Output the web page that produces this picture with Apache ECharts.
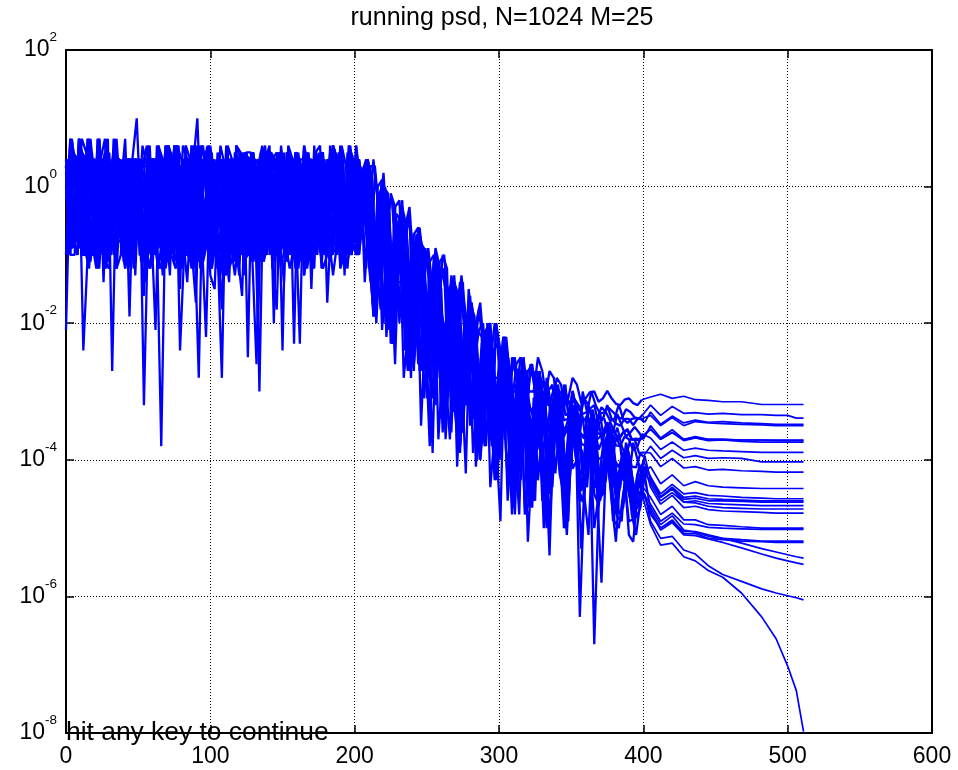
<!DOCTYPE html>
<html><head><meta charset="utf-8">
<script src="https://cdn.jsdelivr.net/npm/echarts@6/dist/echarts.min.js"></script>
<style>html,body{margin:0;padding:0;background:#fff}#c{width:958px;height:770px}</style>
</head><body><div id="c"></div>
<script>
const titleText = 'running psd, N=1024 M=25';
const promptText = 'hit any key to continue';
const xTicks = [0, 100, 200, 300, 400, 500, 600];
const yTicksDb = [-80, -60, -40, -20, 0, 20];   // 10^-8 ... 10^2 expressed in dB
// PSD estimates in dB (10*log10). Body sampled every 3rd bin, tail on tailBins.
const tailBins = [405,412,420,428,436,445,455,468,482,492,500,506,511];
const b01 = [3,-8,-2,5,-24,-10,-5,-11,4,7,-8,-6,-9,2,-7,-12,0,4,-32,-4,4,-9,-6,3,-9,3,4,-7,-14,-2,3,-10,-8,6,2,-5,-4,3,-8,-13,-7,-8,4,3,-9,-8,4,6,-10,-10,4,-10,-5,-7,0,-6,-11,4,2,-12,-2,5,3,-7,-4,-8,-8,-9,
 2,3,-5,-15,0,1,-6,-15,-3,-2,-15,-24,-9,-8,-14,-24,-11,-10,-20,-30,-17,-16,-16,-24,-31,-15,-21,-31,-26,-21,-20,-28,-28,-22,-26,-30,-30,-25,-27,-30,-30,-25,-27,-31.5,-31,-29,-30,-31.2,-31,-28,-29,-31.7,-31,-30.1,-30,-31.5,-31,-29.9,-31,-31.8,-32,-31.2,-31,-31.7,-32,-31.2];
const b02 = [-2,5,4,-9,-4,3,4,-5,-8,-12,2,7,-7,-9,0,4,3,-8,-12,-7,-10,-6,4,-11,4,3,-2,-4,-5,3,10,-7,-8,-9,4,-13,-9,6,4,-5,-10,2,-8,-9,3,6,-6,-10,-8,-10,-7,4,-2,-6,3,4,-4,-8,4,5,-17,-4,2,-12,-10,3,0,-6,
 0,1,-7,-15,-2,0,-1,-21,-11,-7,-10,-14,-24,-6,-9,-26,-16,-15,-14,-31,-23,-15,-18,-23,-23,-17,-19,-32,-31,-23,-24,-32,-28,-22,-26,-33,-30,-27,-29,-33,-32,-28,-29,-32,-32,-28,-29,-33.5,-33,-31,-32,-33.3,-33,-30,-32,-33.3,-33,-32.4,-33,-33.7,-34,-32.6,-33,-33.8,-34,-33.3];
const b03 = [4,-6,-4,4,3,-10,-2,5,-8,-10,2,-12,0,7,-10,-7,4,-7,-8,-5,-21,4,4,-9,-5,3,3,-9,-2,-11,-8,3,6,-6,-4,4,-8,-14,2,-7,-10,-4,4,4,-10,-8,4,-10,-6,6,0,-10,2,3,-9,-6,-8,5,3,-2,-8,-9,4,4,-5,-7,-7,-10,
 -3,4,1,-17,-9,-1,-4,-17,-6,-2,-24,-13,-8,-27,-14,-9,-15,-27,-12,-15,-21,-33,-18,-14,-32,-26,-20,-17,-25,-33,-24,-23,-34,-31,-27,-25,-31,-33,-27,-26,-31,-32,-31,-27,-28,-34.1,-33,-31,-32,-33.9,-34,-31,-32,-34.5,-34,-32.3,-33,-34.3,-34,-31.9,-34,-34.6,-34,-33.9,-34,-34.5];
const b04 = [-10,7,2,-8,-8,4,5,-11,-6,-7,0,-5,3,-10,-2,3,-13,3,4,-7,-4,4,2,-12,-8,-10,4,-6,-7,6,-8,-9,-10,6,3,-4,4,-12,-5,4,-9,-8,-7,-10,-26,4,4,-6,-8,-10,3,2,-4,3,0,-13,5,-2,-10,5,-9,-5,4,3,-9,-8,-4,4,
 1,2,-5,-19,-4,1,-18,-11,-7,-6,-10,-24,-15,-7,-9,-25,-33,-14,-16,-29,-21,-13,-17,-33,-26,-20,-24,-33,-23,-21,-30,-33,-26,-27,-31,-32,-26,-25,-31,-32,-34,-28,-30,-34.7,-33,-31,-31,-34.2,-34,-30,-33,-34.2,-34,-32.5,-32,-34.8,-34,-32,-34,-34.7,-35,-34,-34,-34.9,-34,-34];
const b05 = [2,-9,-5,5,0,-4,3,-12,-2,7,-10,-7,4,-9,-8,4,10,-5,-4,3,-7,-11,-10,3,5,-4,-2,4,-8,-9,-6,6,3,-13,-15,2,4,-6,-8,6,4,-10,-10,4,0,-5,-7,-8,-7,4,4,-10,-9,-12,3,3,-5,-8,-8,-7,4,3,-2,-9,-10,5,4,-4,
 -3,-12,3,3,-4,-20,-3,-2,-14,-14,-6,-3,-12,-26,-11,-10,-19,-19,-11,-10,-18,-30,-36,-15,-19,-34,-25,-18,-23,-27,-34,-20,-24,-35,-29,-26,-27,-33,-34,-26,-30,-35.8,-33,-30,-29,-35.2,-34,-30,-32,-34.8,-37,-30,-33,-36.7,-35,-33.8,-34,-36.5,-36,-33.3,-35,-36.6,-36,-35.2,-36,-37];
const b06 = [-8,5,3,-8,-6,4,4,-12,-2,7,-27,3,0,-6,-9,4,2,-10,-10,3,4,-7,-5,4,-8,-4,3,-9,-11,6,-7,-6,-8,-12,-4,6,3,-10,-9,-8,4,5,-10,-5,-8,4,2,-11,-18,3,0,-7,3,-2,-9,4,4,-9,-6,4,-7,-13,-8,5,-10,-5,-8,-8,
 -1,3,-8,-17,-1,-2,-7,-23,-7,-5,-22,-15,-12,-7,-11,-28,-18,-14,-32,-24,-17,-15,-21,-36,-19,-21,-28,-35,-25,-20,-29,-36,-26,-25,-34,-32,-28,-26,-32,-36,-32,-30,-34,-35.7,-31,-29,-37,-35.7,-34,-33.3,-36,-36.9,-33,-32.7,-36,-36.4,-36,-34.4,-36,-37.1,-36,-35.7,-37,-37.1,-37,-36.4];
const b07 = [4,-10,-10,7,4,-5,-7,3,2,-12,-8,5,3,-7,-4,3,0,-4,-16,4,-7,-8,-38,-2,4,-11,-9,6,4,-6,-5,3,-8,-9,2,4,-10,-13,-9,4,3,-5,4,-10,-2,4,6,-7,-4,5,-8,-10,-7,-12,-10,3,4,-6,-10,4,3,-9,-5,5,0,-4,-9,-7,
 -2,3,0,-17,-7,1,-5,-11,-26,-6,-8,-27,-12,-8,-9,-19,-19,-10,-17,-27,-20,-17,-16,-35,-28,-17,-22,-36,-28,-21,-24,-35,-29,-22,-25,-36.2,-34,-27,-30,-37,-33,-27,-38,-37,-31,-31.6,-35,-36.2,-34,-29.9,-33,-37.6,-38,-33.9,-35,-38.5,-37,-34.5,-36,-37.9,-38,-36.6,-37,-38.6,-38,-36.2];
const b08 = [-2,5,4,-9,-4,7,3,-6,0,-11,-6,4,2,-7,-9,3,4,-10,-8,-12,-8,6,4,-5,-10,6,-7,-10,-8,3,4,-7,-22,3,-8,-4,-2,-9,3,4,-5,-13,4,5,-8,-6,-4,3,2,-11,5,-9,-10,4,0,-8,-7,4,-7,-5,-8,-10,4,5,-12,-10,3,-8,
 1,-7,-14,2,-4,-19,-2,-2,-10,-19,-8,-4,-26,-19,-10,-10,-16,-32,-13,-12,-29,-22,-19,-13,-19,-35,-26,-21,-20,-30,-38,-20,-26,-37,-31,-25,-28,-33,-33,-26,-28,-38.5,-33,-30,-36,-37,-33,-29,-36,-37,-32,-33.8,-39,-38.8,-35,-33,-38,-38.2,-37,-35.3,-38,-39.6,-37,-37,-39,-39.5];
const b09 = [0,-7,-10,5,4,-10,-8,7,-14,3,2,-6,-2,4,4,-12,-5,3,3,-8,-8,4,-9,-11,-9,6,4,-4,-8,-9,4,6,-4,-10,-7,-13,-6,3,0,-7,5,-2,-9,4,-30,4,4,-10,-10,4,2,-6,-8,-12,-5,5,3,-8,-8,4,-8,6,-7,-9,-2,5,-5,-10,
 -4,4,1,-11,-18,-1,-4,-23,-10,-4,-7,-15,-22,-6,-12,-20,-39,-13,-15,-33,-20,-14,-16,-25,-25,-17,-24,-40,-30,-23,-25,-39,-30,-24,-27,-34,-41,-25,-31,-40,-35,-31,-31,-41,-35,-30,-40,-40.4,-33,-34,-38,-39.7,-37,-34.2,-40,-39.7,-37,-35,-40,-41.1,-39,-38.4,-41,-41.1,-39,-38.9];
const b10 = [3,-9,-8,5,-5,4,2,-11,0,-6,-10,7,3,-4,-2,-12,4,4,-10,3,-7,-8,-4,6,-8,-10,3,-5,-9,4,-7,-10,4,-9,4,-12,-10,6,0,-7,-13,4,2,-6,-8,-11,3,3,-5,3,4,-9,-2,5,4,-13,-8,-4,-6,5,-8,-8,-7,-5,-10,5,-8,-10,
 3,-14,-4,4,-2,-21,-10,-1,-3,-20,-10,-4,-8,-20,-27,-9,-13,-26,-19,-10,-12,-36,-20,-14,-21,-25,-34,-21,-22,-38,-26,-20,-24,-32,-43,-25,-28,-43,-32,-28,-27,-43,-36,-28,-32,-42,-35,-29,-33,-41.3,-40,-34.5,-34,-40.8,-39,-34.5,-38,-41.3,-41,-36.7,-38,-43.1,-43,-37.5,-40,-42.2];
const b11 = [-4,7,2,-7,0,-12,-2,5,3,-5,-8,4,4,-10,-8,3,4,-10,-10,4,-6,-9,-7,-4,-8,6,-24,-9,3,-8,-2,6,4,-12,-4,4,2,-6,3,-10,-8,5,-9,4,0,-11,3,-6,-9,5,4,-9,-4,4,-11,3,-7,-7,-8,-12,-10,5,4,-5,-8,4,-6,-8,
 0,1,-7,-16,-1,0,-9,-22,-9,-7,-24,-16,-9,-8,-15,-31,-14,-13,-28,-21,-18,-14,-36,-28,-20,-21,-26,-37,-26,-21,-30,-43,-24,-26,-31,-35,-43,-26,-30,-45,-35,-32,-33,-40,-44,-32,-33,-41.5,-37,-33,-36,-40.1,-41,-36,-39,-43.9,-42,-35.1,-37,-43.1,-42,-40.1,-41,-44.5,-44,-40.1];
const b12 = [4,-9,-6,5,3,-11,-2,7,0,-6,4,-12,-10,4,-19,4,2,-8,-8,3,4,-4,-5,6,3,-10,-8,-6,-9,6,-7,-9,-7,4,-8,3,4,-12,-10,4,4,-7,0,-10,-4,5,5,-9,-2,5,-10,4,4,-11,-8,4,3,-7,-4,2,-9,6,4,-10,-8,-5,-7,4,
 -2,3,0,-18,-8,-2,-5,-18,-10,-3,-6,-24,-17,-8,-13,-24,-13,-10,-19,-28,-37,-16,-16,-30,-23,-17,-22,-37,-29,-23,-24,-38,-30,-22,-29,-45,-27,-27,-42,-35,-31,-28,-36,-45,-32,-32,-42,-42.7,-36,-32,-38,-40.2,-35,-36,-43,-42.7,-38,-36,-41,-43.2,-39,-38.6,-43,-44.9,-42,-39.4];
const b13 = [-21,4,3,-8,-8,7,-4,-6,4,-11,5,-10,-7,4,0,-9,-2,3,2,-6,-12,4,4,-10,-10,6,3,-7,-8,-12,-5,6,-7,-4,-8,3,-8,-10,4,-9,-9,4,4,-11,0,-5,-10,5,-20,5,2,-8,4,-6,-8,4,-4,-10,4,-5,3,-9,-6,5,-8,-6,-10,6,
 1,3,-5,-18,-4,-1,-22,-12,-9,-6,-13,-27,-10,-7,-19,-26,-17,-14,-16,-31,-23,-15,-27,-37,-19,-20,-26,-34,-25,-21,-44,-36,-27,-28,-34,-42,-32,-27,-35,-46,-31,-31,-46,-39,-35,-30,-38,-43.3,-36,-36,-41,-42.1,-39,-35.6,-44,-43.8,-38,-36.6,-42,-43.3,-41,-40,-44,-45.8,-42,-40.7];
const b14 = [2,-7,-8,5,0,-11,-9,7,3,-6,-10,4,4,-10,4,-5,-2,3,-5,3,-8,-12,-7,-6,-8,4,-15,4,3,-9,4,-7,-4,6,0,-4,2,-11,-9,6,5,-10,-6,3,4,-8,-10,4,-7,-10,-8,4,-8,5,3,-6,-8,-12,4,5,-5,3,0,-9,-2,4,4,-6,
 -4,3,0,-19,-4,2,-9,-17,-4,-5,-10,-18,-27,-6,-10,-17,-17,-9,-12,-35,-19,-16,-18,-25,-32,-17,-21,-38,-26,-21,-23,-31,-40,-22,-29,-39,-31,-27,-28,-39,-46,-27,-32,-45,-37,-30,-31,-43,-39,-33,-35,-40.9,-39,-33,-36,-43.5,-43,-37.5,-40,-43,-43,-37.5,-40,-46,-43,-40.9];
const b15 = [-8,5,4,-10,-10,7,0,-5,-6,4,2,-8,-8,-12,4,4,-4,3,6,-6,-2,4,-10,3,4,-9,-8,-10,-10,6,3,-11,-8,5,-5,4,-7,-7,0,-10,-16,4,3,-5,-9,5,4,-12,-8,-4,-4,4,-23,5,-8,-8,-2,4,2,-6,-9,6,4,-11,-10,2,0,-4,
 -1,3,-8,-16,-2,-1,-8,-22,-9,-3,-13,-22,-8,-9,-21,-21,-15,-11,-18,-28,-17,-13,-24,-36,-21,-20,-41,-29,-22,-21,-29,-40,-28,-25,-33,-33,-29,-25,-38,-47,-32,-31,-35,-45,-32,-30,-39,-47,-36,-34,-46,-45.3,-36,-35,-41,-42.5,-39,-36,-44,-44.8,-39,-40.2,-44,-45.3,-43,-41];
const b16 = [3,-9,-4,7,4,-6,-8,-12,2,5,-7,4,0,-8,4,-11,-2,3,-10,4,4,-7,3,-4,-13,6,-8,-10,-9,6,4,-6,-5,3,4,-12,-8,4,-7,-5,-10,-9,3,-10,-8,5,0,-7,2,-12,-4,5,4,-4,-23,5,3,-9,-8,2,-8,-11,-6,4,-7,-6,-4,4,
 -1,1,-9,-19,-1,-1,-8,-18,-9,-7,-18,-27,-11,-9,-17,-26,-14,-12,-37,-26,-20,-18,-24,-39,-20,-19,-27,-36,-26,-21,-33,-41,-28,-27,-32,-46,-29,-29,-48,-39,-34,-29,-37,-45,-34,-35,-41,-45.2,-37,-34,-40,-44.5,-37,-38,-50,-45.2,-41,-39,-45,-47.5,-41,-41.4,-45,-47,-44,-43.8];
const b17 = [-10,5,4,-9,3,-6,-5,7,0,-11,-2,4,2,-7,-11,3,4,-4,-8,-12,-8,6,-4,6,-7,-9,-9,4,4,-6,-10,3,4,-11,-7,5,0,-4,3,-8,-8,5,-5,4,2,-10,-2,5,4,-7,-14,2,3,-5,-8,-12,-10,6,-7,-8,-8,4,4,-6,-5,4,-9,-10,
 2,4,-5,-16,-3,-1,-13,-23,-6,-4,-11,-20,-7,-6,-17,-27,-15,-13,-19,-28,-15,-14,-28,-35,-21,-16,-26,-36,-23,-23,-27,-37,-49,-23,-28,-40,-32,-27,-27,-45,-37,-27,-33,-45,-37,-32,-33,-50,-42,-32,-36,-42,-40,-37,-36,-46,-43,-37,-41,-48.4,-49,-40,-41,-47.2,-46,-42];
const b18 = [0,-8,-2,7,5,-10,-10,4,4,-6,-9,4,2,-12,-8,3,-4,6,3,-9,-8,-4,-6,6,4,-11,-9,3,4,-7,-28,4,0,-10,-7,-5,-10,4,4,-8,-8,5,-8,4,3,-11,-8,-6,-2,5,2,-9,-5,4,4,-12,-8,5,6,-6,-10,4,-10,2,-7,-8,-8,3,
 -6,2,-1,-16,-6,0,-5,-21,-14,-7,-10,-22,-14,-8,-9,-24,-31,-13,-18,-22,-22,-14,-18,-34,-24,-20,-21,-30,-38,-20,-26,-42,-31,-27,-28,-37,-48,-27,-32,-37,-37,-31,-31,-50,-37,-30,-35,-48,-40,-34,-36,-45,-51,-37,-40,-45,-43,-37,-40,-47.9,-47,-42,-43,-48.5,-47,-42];
const b19 = [2,-9,-5,7,-8,-11,3,-6,-10,5,4,-8,-2,3,4,-5,-10,4,0,-10,-7,-6,-4,6,-8,-9,6,-10,-6,3,4,-12,-9,4,-8,-7,-18,4,2,-11,3,-6,-10,5,0,-9,-5,5,4,-10,4,-11,-2,5,-7,4,-7,-9,-8,-5,-8,2,-4,4,3,-10,-9,6,
 -2,1,-10,-18,-4,0,-9,-19,-7,-5,-28,-21,-13,-10,-12,-27,-20,-11,-17,-23,-31,-15,-17,-38,-24,-20,-39,-31,-24,-21,-30,-37,-28,-25,-35,-45,-29,-29,-34,-39,-46,-29,-33,-39,-39,-34,-37,-46,-49,-32,-37,-44,-42,-36,-40,-45.9,-45,-39,-40,-45.2,-44,-39,-43,-47.5,-47,-44];
const b20 = [-8,7,2,-7,-10,5,0,-12,4,-5,-8,3,4,-9,-2,4,3,-11,-5,6,-8,-4,-13,6,-7,-8,-8,4,4,-12,-10,3,5,-9,-9,-4,0,5,-6,-10,2,-6,-8,4,-21,5,3,-8,-8,-11,-10,6,4,-6,-4,2,-7,-9,5,-10,-2,3,0,-11,-9,6,4,-5,
 -5,2,-1,-16,-9,-3,-7,-23,-14,-6,-10,-18,-26,-8,-15,-25,-14,-15,-21,-35,-19,-16,-41,-27,-22,-18,-26,-39,-23,-23,-31,-39,-30,-25,-36,-47,-30,-27,-35,-44,-31,-32,-50,-42,-35,-32,-40,-41,-36,-35,-44,-46.2,-40,-39,-42,-45.5,-39,-38,-49,-46.2,-42,-42,-46,-48.5,-43,-45];
const b21 = [4,-8,-10,5,2,-10,-6,7,-8,-5,3,-12,0,4,-4,3,-7,-9,-9,4,4,-6,-2,-11,4,6,-10,6,-8,-8,-11,4,2,-12,-8,4,3,-7,-5,3,0,-10,4,-5,-9,5,-7,4,5,-9,-8,5,-8,-11,-10,4,-15,2,-7,-7,4,-10,-2,6,3,-8,-6,4,
 -1,1,-7,-20,-7,-1,-13,-20,-9,-7,-15,-28,-13,-8,-31,-22,-15,-15,-20,-37,-25,-17,-20,-33,-26,-19,-25,-40,-33,-25,-25,-40,-31,-26,-35,-48,-32,-29,-52,-40,-33,-30,-38,-54,-34,-34,-42,-51,-39,-33,-63,-45,-40,-38,-45,-58,-41,-39,-49,-50,-45,-42,-48,-51,-46,-45];
const b22 = [-2,7,3,-9,0,5,-4,-7,4,-11,-12,3,2,-5,-8,4,4,-10,-10,6,-8,-8,-7,-4,-6,6,-9,-12,3,-6,4,3,-4,4,-8,-9,-28,4,-9,5,4,-11,-10,5,0,-7,4,-10,-5,4,-24,5,2,-8,-8,6,3,-12,-2,2,-8,-5,-7,4,4,-9,-10,3,
 -4,0,-3,-11,-11,-1,-5,-23,-11,-8,-12,-17,-17,-8,-13,-22,-38,-14,-18,-29,-22,-15,-18,-38,-30,-21,-25,-38,-25,-22,-32,-43,-29,-26,-46,-37,-30,-27,-36,-47,-33,-33,-40,-50,-34,-33,-38,-50,-42,-34,-36,-53,-42,-38,-67,-47,-41,-39,-46,-52,-42,-42,-51,-52,-45,-45];
const b23 = [4,-9,-8,7,-10,5,2,-10,0,-6,-5,4,4,-11,3,-6,-2,3,-14,4,4,-8,-8,6,-10,-12,-7,-4,-8,4,6,-9,-7,3,0,-10,2,-5,-9,5,-4,5,4,-11,3,-7,-10,5,-8,-9,-2,4,-7,-12,-8,2,4,-6,-5,4,0,-10,-9,6,-13,6,4,-8,
 -2,1,-7,-19,-2,0,-21,-12,-8,-5,-13,-24,-8,-10,-15,-24,-15,-11,-23,-34,-17,-16,-22,-27,-42,-18,-21,-34,-27,-20,-27,-42,-32,-27,-28,-36,-44,-27,-31,-44,-35,-30,-30,-39,-39,-30,-36,-45,-39,-35,-36,-42,-44,-36,-39,-43.6,-42,-39,-40,-43.6,-42,-39,-44,-45.5,-41,-42];
const b24 = [-10,5,0,-10,2,-6,-7,4,3,-11,-8,7,-2,4,4,-9,4,-5,-6,3,-8,-12,-10,6,-7,-7,-12,6,4,-4,-8,-10,3,3,-4,4,0,-8,2,-11,-9,5,5,-4,-5,5,4,-9,-10,2,-8,-12,-9,4,-7,-6,-8,4,3,-10,-4,6,4,-7,-2,6,-5,4,
 -1,2,-6,-18,-2,-2,-11,-18,-10,-7,-18,-27,-11,-8,-17,-26,-16,-15,-34,-25,-17,-16,-22,-36,-24,-20,-29,-36,-25,-21,-30,-36,-27,-27,-34,-35.1,-30,-27,-34,-34.3,-32,-28,-36,-35.8,-32,-32,-35,-36,-34,-32.6,-36,-36.6,-35,-33.2,-37,-36.4,-35,-35.5,-36,-36.9,-36,-35.5,-37,-36.9,-37,-36.2];
const b25 = [0,-10,3,5,-4,7,4,-9,-2,4,2,-7,-8,3,-8,-12,4,-5,-8,6,-10,6,4,-11,0,-6,-5,4,3,-9,-17,3,4,-12,-9,5,-7,-8,-8,-4,-6,5,-25,5,-8,-10,4,-7,-4,4,4,-11,0,2,-2,6,-10,-6,4,-9,-10,6,2,-7,-8,-12,-4,3,
 -1,0,-11,-18,-6,-2,-10,-20,-7,-8,-16,-27,-14,-9,-35,-20,-16,-16,-21,-36,-18,-17,-28,-35,-24,-21,-28,-40,-28,-22,-33,-40,-29,-26,-33,-48,-30,-31,-48,-40,-34,-30,-39,-47,-35,-34,-42,-45.3,-39,-35,-41,-44.6,-38,-39,-45,-46.5,-41,-40,-45,-46.5,-42,-43,-49,-48.7,-45,-44.6];
const t01 = [-30.8,-30.4,-31,-30.7,-31.2,-31.3,-31.5,-31.5,-31.9,-31.9,-31.9,-31.9,-31.9];
const t02 = [-32,-33.5,-32.2,-33.2,-33.1,-33.3,-33.2,-33.4,-33.4,-33.5,-33.5,-33.9,-33.9];
const t03 = [-33,-34.8,-33.6,-34.6,-34.2,-34.5,-34.4,-34.6,-34.7,-34.8,-34.8,-34.8,-34.8];
const t04 = [-33.5,-35,-33.8,-35,-34.4,-34.6,-34.7,-34.8,-34.9,-35,-35,-35,-35];
const t05 = [-35,-36.8,-35.6,-37,-36.6,-37,-37,-37.1,-37.1,-37.2,-37.2,-37.2,-37.2];
const t06 = [-35.5,-37,-36,-37.2,-36.8,-37.2,-37.1,-37.3,-37.4,-37.4,-37.4,-37.4,-37.4];
const t07 = [-36.8,-38.5,-37.4,-38.6,-38.3,-38.6,-38.7,-38.8,-38.9,-38.9,-38.9,-38.9,-38.9];
const t08 = [-38,-39.8,-38.6,-39.7,-39.4,-39.8,-39.7,-39.8,-40.3,-40.3,-40.3,-40.3,-40.3];
const t09 = [-39,-41,-39.8,-41.2,-41,-41.5,-41.4,-41.6,-41.7,-41.8,-41.8,-41.8,-41.8];
const t10 = [-41,-43.5,-42.2,-43.8,-43.2,-43.8,-44,-44.1,-44.2,-44.2,-44.2,-44.2,-44.2];
const t11 = [-42.5,-45,-43.6,-45,-44.8,-45.2,-45.3,-45.5,-45.6,-45.7,-45.7,-45.7,-45.7];
const t12 = [-43,-45.4,-44,-45.5,-45.3,-45.7,-45.8,-45.9,-46,-46,-46,-46,-46];
const t13 = [-43.5,-46,-44.8,-46.2,-46,-46.4,-46.5,-46.6,-46.7,-46.7,-46.7,-46.7,-46.7];
const t14 = [-42.5,-45.5,-44.2,-46.2,-46.3,-46.8,-47,-47.1,-47.2,-47.2,-47.2,-47.2,-47.2];
const t15 = [-44,-46.5,-45.2,-47,-46.8,-47.3,-47.5,-47.6,-47.7,-47.8,-47.8,-47.8,-47.8];
const t16 = [-45.5,-48,-46.8,-48.8,-48.8,-49.5,-49.6,-49.8,-50,-50,-50,-50,-50];
const t17 = [-47,-49.5,-48.2,-50.3,-50.6,-51.2,-51.5,-51.7,-51.9,-51.9,-51.9,-51.9,-51.9];
const t18 = [-47.5,-50,-48.8,-50.8,-50.8,-51.5,-51.7,-51.9,-52,-52.1,-52.1,-52.1,-52.1];
const t19 = [-48,-50,-49,-50.5,-50.5,-51,-51.5,-52.2,-53,-53.5,-53.9,-54.2,-54.4];
const t20 = [-47.5,-50.3,-49.2,-51,-51.1,-51.6,-52.1,-52.9,-53.8,-54.4,-54.8,-55.1,-55.3];
const t21 = [-49,-51.5,-51.2,-53.2,-53.8,-55.5,-56.8,-57.8,-58.9,-59.5,-59.9,-60.2,-60.5];
const t22 = [-49.5,-52.5,-52.2,-54.2,-54.8,-56.2,-57.2,-59.5,-63,-66.2,-70.2,-73.8,-79.8];
const t23 = [-43,-45.5,-44.3,-45.8,-45.6,-46,-46,-46.1,-46.2,-46.2,-46.2,-46.2,-46.2];
const t24 = [-35.5,-37,-36,-37,-36.8,-37,-37,-37.1,-37.1,-37.1,-37.1,-37.1,-37.1];
const t25 = [-46.5,-49,-47.8,-49.4,-49.5,-49.9,-50,-50.1,-50.2,-50.2,-50.2,-50.2,-50.2];

const bodies = [b01,b02,b03,b04,b05,b06,b07,b08,b09,b10,b11,b12,b13,b14,b15,b16,b17,b18,b19,b20,b21,b22,b23,b24,b25];
const tails = [t01,t02,t03,t04,t05,t06,t07,t08,t09,t10,t11,t12,t13,t14,t15,t16,t17,t18,t19,t20,t21,t22,t23,t24,t25];
const BODY_STEP = 3;
const FONT = '"Liberation Sans", Arial, Helvetica, sans-serif';
const BLUE = '#0000ff';

const series = [];
bodies.forEach(function (b, k) {
  const off = k % BODY_STEP;
  const body = [];
  b.forEach(function (v, i) {
    const x = off + BODY_STEP * i;
    if (x < tailBins[0]) body.push([x, v]);
  });
  const tail = [body[body.length - 1]];
  tails[k].forEach(function (v, j) { tail.push([tailBins[j], v]); });
  series.push({
    type: 'line', data: body, showSymbol: false, symbol: 'none', silent: true, z: 2,
    lineStyle: { color: BLUE, width: 2.3 }, itemStyle: { color: BLUE }
  });
  series.push({
    type: 'line', data: tail, showSymbol: false, symbol: 'none', silent: true, z: 2,
    lineStyle: { color: BLUE, width: 1.7 }, itemStyle: { color: BLUE }
  });
});

const frameLine = { show: true, onZero: false, lineStyle: { color: '#000', width: 2 } };
const frameTick = { show: true, inside: true, length: 8, lineStyle: { color: '#000', width: 1.5 } };
const gridLine = { show: true, lineStyle: { color: '#000', width: 1, type: [1, 2] } };
const xMin = xTicks[0], xMax = xTicks[xTicks.length - 1], xInt = xTicks[1] - xTicks[0];
const yMin = yTicksDb[0], yMax = yTicksDb[yTicksDb.length - 1], yInt = yTicksDb[1] - yTicksDb[0];

const chart = echarts.init(document.getElementById('c'), null, { renderer: 'canvas' });
chart.setOption({
  animation: false,
  backgroundColor: '#fff',
  title: [
    { text: titleText, left: 502, top: 18.5, textAlign: 'center', textVerticalAlign: 'middle', padding: 0,
      textStyle: { fontSize: 25, fontWeight: 'normal', color: '#000', fontFamily: FONT } },
    { text: promptText, left: 66, top: 732.5, textAlign: 'left', textVerticalAlign: 'middle', padding: 0,
      textStyle: { fontSize: 26.4, fontWeight: 'normal', color: '#000', fontFamily: FONT } }
  ],
  grid: { left: 66, right: 26, top: 50, bottom: 37, containLabel: false, outerBoundsMode: 'none' },
  xAxis: [
    { type: 'value', min: xMin, max: xMax, interval: xInt, position: 'bottom',
      axisLine: frameLine, axisTick: frameTick, splitLine: gridLine,
      axisLabel: { color: '#000', fontSize: 23, fontFamily: FONT, margin: 12, showMinLabel: true, showMaxLabel: true } },
    { type: 'value', min: xMin, max: xMax, interval: xInt, position: 'top',
      axisLine: frameLine, axisTick: frameTick, splitLine: { show: false }, axisLabel: { show: false } }
  ],
  yAxis: [
    { type: 'value', min: yMin, max: yMax, interval: yInt, position: 'left',
      axisLine: frameLine, axisTick: frameTick, splitLine: gridLine,
      axisLabel: {
        margin: 9, showMinLabel: true, showMaxLabel: true,
        formatter: function (v) { return '{b|10}{s|' + Math.round(v / 10) + '}'; },
        rich: {
          b: { fontSize: 23, fontFamily: FONT, color: '#000', height: 23, padding: [9, 0, 9, 0] },
          s: { fontSize: 13.5, fontFamily: FONT, color: '#000', height: 14, padding: [1, 0, 26, 0] }
        }
      } },
    { type: 'value', min: yMin, max: yMax, interval: yInt, position: 'right',
      axisLine: frameLine, axisTick: frameTick, splitLine: { show: false }, axisLabel: { show: false } }
  ],
  series: series
});
</script>
</body></html>
